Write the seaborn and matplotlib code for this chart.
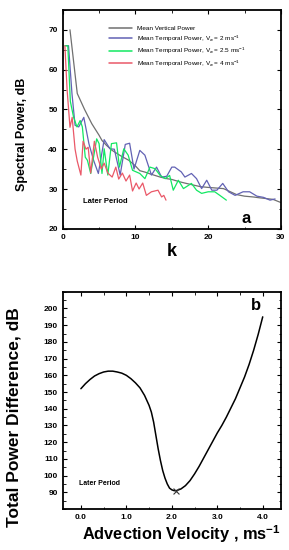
import numpy as np
import pandas as pd
import matplotlib
matplotlib.use("Agg")
import matplotlib.pyplot as plt
import seaborn as sns
from matplotlib.ticker import MultipleLocator

# ---- Panel a: spectral power vs wavenumber k ----
k_vert = [1, 2, 2.65, 3, 4, 5, 5.4, 6, 6.8, 8, 9.1, 10, 10.6, 11.4, 12, 13.4, 14.3,
          15, 16.1, 17, 18.9, 20, 22.1, 23.9, 25, 26.2, 27, 28.9, 30]
p_vert = [70, 54, 51.4, 50, 46.4, 43.5, 42.2, 41, 39.7, 38.3, 37.2, 35.8, 34.6, 34.2,
          33.8, 33, 32.6, 32.4, 31.8, 31.4, 30.6, 30.4, 30.1, 28.6, 28.2, 28, 27.8, 27.4, 26.6]

k_v2 = [0.4, 0.8, 1.27, 1.7, 2.2, 2.9, 3.6, 4.25, 4.9, 5.7, 6.5, 7.1, 7.9, 8.6, 9.2, 9.8,
        10.6, 11.3, 12.2, 12.9, 13.6, 14.3, 15, 15.4, 16.3, 16.8, 17.7, 18.4, 19.1, 19.8,
        20.5, 21.2, 22, 22.8, 23.7, 24.8, 25.7, 26.7, 27.6, 28.5, 29.2]
p_v2 = [66, 66, 54, 46, 45.6, 48, 41.4, 37.2, 33.9, 42.4, 40.1, 40, 33.5, 41.2, 41.5, 35,
        39.7, 38.5, 33.5, 35.5, 33, 33.2, 35.5, 35.5, 34.3, 33, 33.9, 32.6, 30.1, 32.2,
        29.7, 29.7, 31.4, 29.3, 28.4, 29.3, 29.3, 28.2, 27.9, 27.2, 27.5]

k_v25 = [0.3, 0.7, 1.05, 1.5, 1.96, 2.4, 2.7, 3.1, 3.4, 3.85, 4.67, 5.0, 5.4, 5.7, 6.2,
         6.7, 7.4, 7.8, 8.4, 9.0, 9.6, 10.6, 11.3, 12.0, 12.7, 13.4, 14.1, 14.7, 15.2,
         15.9, 16.6, 17.7, 18.4, 19.1, 20.0, 20.9, 21.6, 22.5]
p_v25 = [66, 66, 52, 48, 45.6, 47.2, 45.6, 38, 37.2, 33.9, 42.6, 41.4, 33.9, 40.1, 33.5,
         41.4, 41.6, 35.5, 40.1, 38.5, 34.7, 33.9, 32.6, 35.5, 35.1, 33.4, 32.6, 33.4, 29.7,
         32.2, 30.1, 31.4, 29.7, 28.9, 29.3, 29.3, 28.4, 27.2]

k_v4 = [0.3, 0.6, 1.0, 1.3, 1.7, 2.0, 2.5, 2.8, 3.2, 3.5, 3.85, 4.35, 4.8, 5.3, 5.7, 6.2,
        6.8, 7.3, 7.7, 8.2, 8.7, 9.2, 9.6, 10.1, 10.5, 11.0, 11.5, 12.2, 13.1, 13.6, 13.9, 14.2]
p_v4 = [66, 55, 45.5, 48, 40, 37, 33.5, 42, 40, 40.5, 34, 42, 38, 35, 36.5, 34,
        33, 35.5, 32.5, 34, 32, 33.5, 29.5, 31.5, 30, 31.5, 28.4, 29.3, 29.7, 28, 28.4, 27.2]

# ---- Panel b: total power difference vs advection velocity ----
vel = [0.0, 0.1, 0.2, 0.3, 0.4, 0.5, 0.6, 0.7, 0.8, 0.9, 1.0, 1.1, 1.2, 1.3, 1.4, 1.5,
       1.55, 1.6, 1.65, 1.7, 1.75, 1.8, 1.85, 1.9, 1.95, 2.0, 2.05, 2.1, 2.2, 2.3, 2.4,
       2.5, 2.6, 2.7, 2.8, 2.9, 3.0, 3.1, 3.2, 3.3, 3.4, 3.5, 3.6, 3.7, 3.8, 3.9, 4.0]
tpd = [152, 155, 157.5, 159.6, 161, 162, 162.5, 162.5, 162, 161.3, 160, 158, 155.5,
       152.5, 148, 142, 138, 132, 124, 116, 109, 103, 98.5, 95, 92.5, 91.5, 91, 91, 92,
       94, 97, 101, 105.5, 110.5, 115.5, 120.5, 125.5, 130, 135, 140.5, 146, 152.5, 159,
       166.5, 175, 184.5, 195]
vel_min = [2.1]
tpd_min = [91]

sns.set_theme(style="ticks")
plt.rcParams['font.family'] = ['Liberation Sans', 'DejaVu Sans']
plt.rcParams['mathtext.fontset'] = 'custom'
plt.rcParams['mathtext.rm'] = 'Liberation Sans'
plt.rcParams['mathtext.bf'] = 'Liberation Sans:bold'
plt.rcParams['text.color'] = 'black'
plt.rcParams['axes.labelcolor'] = 'black'
plt.rcParams['xtick.color'] = 'black'
plt.rcParams['ytick.color'] = 'black'

fig = plt.figure(figsize=(2.89, 5.5), dpi=100)
ax1 = fig.add_axes([0.217, 0.584, 0.755, 0.398])
ax2 = fig.add_axes([0.217, 0.0745, 0.755, 0.395])

series = [
    (k_vert, p_vert, "#707070", "Mean Vertical Power"),
    (k_v2, p_v2, "#6262b4", r"Mean Temporal Power, V$_a$ = 2 ms$^{-1}$"),
    (k_v25, p_v25, "#12e862", r"Mean Temporal Power, V$_a$ = 2.5 ms$^{-1}$"),
    (k_v4, p_v4, "#ea5868", r"Mean Temporal Power, V$_a$ = 4 ms$^{-1}$"),
]
for kx, py, col, lab in series:
    df = pd.DataFrame({"k": kx, "p": py})
    sns.lineplot(data=df, x="k", y="p", ax=ax1, color=col, linewidth=0.9,
                 sort=False, estimator=None, label=lab)

ax1.set_xlim(0, 30)
ax1.set_ylim(20, 75)
ax1.xaxis.set_major_locator(MultipleLocator(10))
ax1.xaxis.set_minor_locator(MultipleLocator(5))
ax1.yaxis.set_minor_locator(MultipleLocator(5))
ax1.set_yticks([20, 30, 40, 50, 60, 70])
ax1.set_xlabel("k", fontsize=13, fontweight="bold", labelpad=2)
ax1.set_ylabel("Spectral Power, dB", fontsize=9, fontweight="bold", labelpad=15)
ax1.yaxis.label.set_y(0.433)
leg = ax1.legend(loc="upper left", bbox_to_anchor=(0.2, 0.94), frameon=False,
                 fontsize=4.6, handlelength=3.6, labelspacing=0.35, handletextpad=0.8,
                 borderaxespad=0)
for line in leg.get_lines():
    line.set_linewidth(1.1)
ax1.text(2.8, 26.8, "Later Period", fontsize=5.5, fontweight="bold", va="center")
ax1.text(24.6, 22.6, "a", fontsize=12, fontweight="bold", va="center")

sns.lineplot(x=vel, y=tpd, ax=ax2, color="black", linewidth=1.1, sort=False, estimator=None)
ax2.scatter(vel_min, tpd_min, marker="x", color="#333333", s=18, linewidths=0.8, zorder=3)
ax2.set_xlim(-0.4, 4.4)
ax2.set_ylim(80, 210)
ax2.set_xticks([0, 1, 2, 3, 4])
ax2.set_xticklabels(["0.0", "1.0", "2.0", "3.0", "4.0"])
ax2.xaxis.set_minor_locator(MultipleLocator(0.5))
ax2.set_yticks(list(range(90, 201, 10)))
ax2.yaxis.set_minor_locator(MultipleLocator(5))
ax2.set_xlabel(r"Advection Velocity , ms$^{\mathbf{-1}}$", fontsize=11.8, fontweight="bold", labelpad=2)
ax2.xaxis.label.set_x(0.545)
ax2.set_ylabel("Total Power Difference, dB", fontsize=12.5, fontweight="bold", labelpad=16)
ax2.yaxis.label.set_y(0.423)
ax2.text(-0.05, 95, "Later Period", fontsize=5, fontweight="bold", va="center")
ax2.text(3.75, 201.5, "b", fontsize=12, fontweight="bold", va="center")

for ax in (ax1, ax2):
    for sp in ax.spines.values():
        sp.set_visible(True)
        sp.set_linewidth(1.3)
        sp.set_color("black")
    ax.tick_params(which="both", direction="in", top=True, right=True, colors="black",
                   labelsize=6)
    ax.tick_params(which="major", length=3, width=0.8)
    ax.tick_params(which="minor", length=1.8, width=0.6)
    for t in ax.get_xticklabels() + ax.get_yticklabels():
        t.set_fontweight("bold")

fig.savefig("out.png", dpi=100)
